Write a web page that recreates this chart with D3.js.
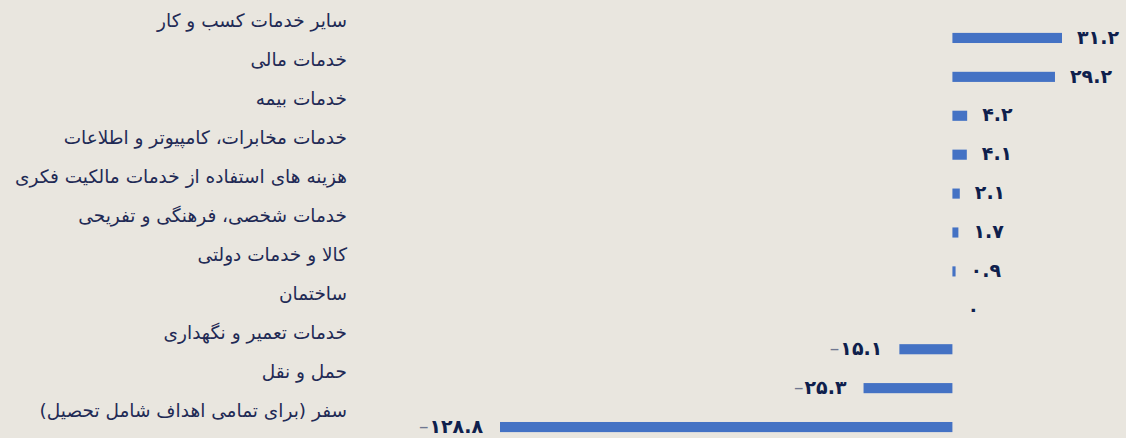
<!DOCTYPE html>
<html>
<head>
<meta charset="utf-8">
<script src="https://cdn.jsdelivr.net/npm/d3@7"></script>
<style>
  html, body { margin: 0; padding: 0; background: #e9e6df; }
  svg { display: block; }
</style>
</head>
<body>
<svg id="chart" width="1126" height="438"></svg>
<script>
// categories, top to bottom
var categories = [
  'سایر خدمات کسب و کار',
  'خدمات مالی',
  'خدمات بیمه',
  'خدمات مخابرات، کامپیوتر و اطلاعات',
  'هزینه های استفاده از خدمات مالکیت فکری',
  'خدمات شخصی، فرهنگی و تفریحی',
  'کالا و خدمات دولتی',
  'ساختمان',
  'خدمات تعمیر و نگهداری',
  'حمل و نقل',
  'سفر (برای تمامی اهداف شامل تحصیل)'
];
var values = [31.2, 29.2, 4.2, 4.1, 2.1, 1.7, 0.9, 0, -15.1, -25.3, -128.8];

var svg = d3.select('#chart');

var x = d3.scaleLinear()
  .domain([-128.8, 31.2])
  .range([500, 1062]);

var y = d3.scaleBand()
  .domain(categories)
  .range([18.5, 446.5])
  .paddingInner(0.74)
  .paddingOuter(0.37);

// persian digits
function toFa(s) {
  return s.replace(/[0-9]/g, function (c) { return '۰۱۲۳۴۵۶۷۸۹'[+c]; });
}

var data = categories.map((c, i) => ({ name: c, value: values[i] }));

// bars
svg.selectAll('rect.bar')
  .data(data)
  .enter()
  .append('rect')
  .attr('class', 'bar')
  .attr('x', d => x(Math.min(0, d.value)))
  .attr('y', d => y(d.name))
  .attr('width', d => Math.abs(x(d.value) - x(0)))
  .attr('height', y.bandwidth())
  .style('fill', '#4472c4');

// category labels (they sit a bit above the bars)
svg.selectAll('text.cat')
  .data(data)
  .enter()
  .append('text')
  .attr('class', 'cat')
  .attr('x', 347)
  .attr('y', d => y(d.name) + y.bandwidth() / 2 - 17)
  .attr('dy', '0.35em')
  .attr('direction', 'rtl')
  .attr('text-anchor', 'start')
  .style('font-family', 'DejaVu Sans, Noto Sans, sans-serif')
  .style('font-size', '18.5px')
  .style('fill', '#1f2a55')
  .text(d => d.name);

// value labels
var vl = svg.selectAll('text.val')
  .data(data)
  .enter()
  .append('text')
  .attr('class', 'val')
  .attr('x', d => d.value < 0 ? x(d.value) - 17 : x(d.value) + 15)
  .attr('y', d => y(d.name) + y.bandwidth() / 2)
  .attr('dy', '0.3em')
  .attr('direction', 'ltr')
  .attr('text-anchor', d => d.value < 0 ? 'end' : 'start')
  .style('font-family', 'DejaVu Sans, sans-serif')
  .style('font-size', '19px')
  .style('font-weight', 'bold')
  .style('fill', '#0f1f4d');

vl.filter(d => d.value < 0)
  .append('tspan')
  .style('fill', '#6f7790')
  .style('font-weight', 'normal')
  .text('–');

vl.append('tspan')
  .attr('dx', d => d.value < 0 ? 1 : 0)
  .text(d => toFa(d3.format('.1f')(Math.abs(d.value)).replace(/\.0$/, '')));
</script>
</body>
</html>
